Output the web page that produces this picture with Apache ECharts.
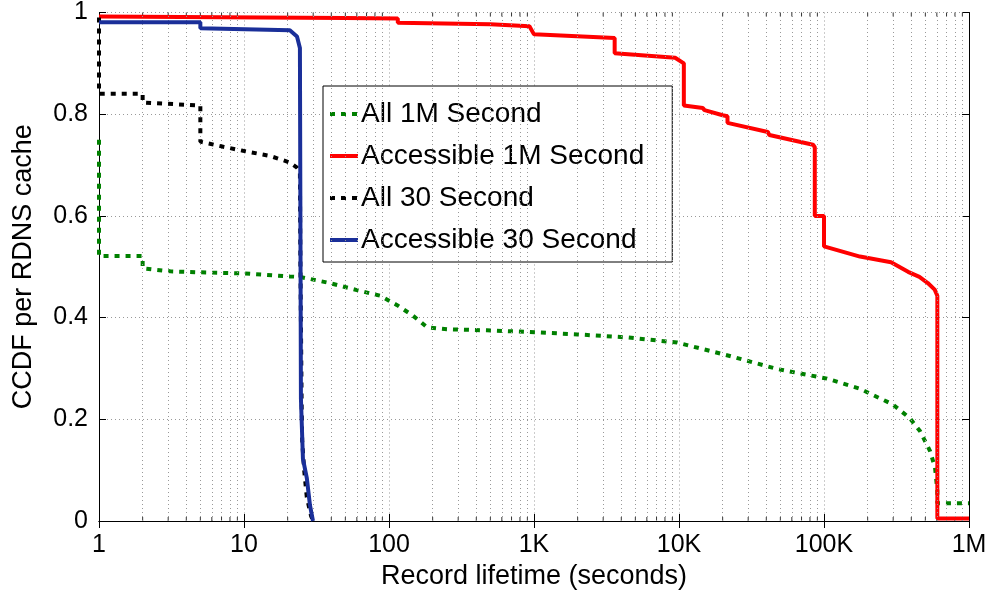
<!DOCTYPE html>
<html>
<head>
<meta charset="utf-8">
<script src="https://cdn.jsdelivr.net/npm/echarts@6/dist/echarts.min.js"></script>
<style>
  html, body { margin: 0; padding: 0; background: #fff; }
  #chart { width: 995px; height: 598px; }
</style>
</head>
<body>
<div id="chart"></div>
<script>
// tick labels
var xTickLabels = ['1', '10', '100', '1K', '10K', '100K', '1M'];
var yTickLabels = ['0', '0.2', '0.4', '0.6', '0.8', '1'];
var seriesNames = ['All 1M Second', 'Accessible 1M Second', 'All 30 Second', 'Accessible 30 Second'];

// [record lifetime (s), CCDF]
var all1M = [
  [1, 0.75], [1, 0.521], [2, 0.521], [2, 0.497], [3.1, 0.491], [5, 0.489], [9.85, 0.487],
  [20.7, 0.481], [24.3, 0.48], [39, 0.468], [60, 0.454], [87, 0.443], [113, 0.425],
  [146, 0.404], [183, 0.381], [251, 0.377], [474, 0.375], [1047, 0.371], [2000, 0.367],
  [4400, 0.361], [9700, 0.351], [21400, 0.326], [47400, 0.299], [105000, 0.28],
  [177000, 0.26], [299000, 0.229], [391000, 0.202], [459000, 0.177], [538000, 0.138],
  [583000, 0.105], [604800, 0.06], [604800, 0.035], [1000000, 0.035]
];
var acc1M = [
  [1, 0.992], [50, 0.989], [115, 0.988], [115, 0.98], [500, 0.977], [930, 0.973],
  [1000, 0.957], [3600, 0.95], [3600, 0.92], [9400, 0.911], [10800, 0.9], [10800, 0.817],
  [14600, 0.812], [15000, 0.808], [20000, 0.798], [21600, 0.796], [21600, 0.783],
  [41000, 0.765], [42000, 0.759], [84000, 0.74], [86400, 0.735], [86400, 0.6],
  [100000, 0.6], [100000, 0.54], [177000, 0.52], [290000, 0.509], [380000, 0.49],
  [455000, 0.48], [520000, 0.468], [580000, 0.455], [604800, 0.443], [604800, 0.005],
  [1000000, 0.005]
];
var all30 = [
  [1, 0.99], [1, 0.84], [2, 0.84], [2, 0.823], [5, 0.817], [5, 0.746], [7.2, 0.736],
  [9.85, 0.728], [15.1, 0.718], [20.7, 0.705], [23.2, 0.695], [24.3, 0.687], [24.5, 0.5],
  [25, 0.22], [25.2, 0.157], [26, 0.1], [27.1, 0.047], [29, 0.01], [30, 0]
];
var acc30 = [
  [1, 0.981], [5, 0.981], [5, 0.969], [20.7, 0.965], [23.2, 0.953], [24.3, 0.93],
  [24.7, 0.24], [25.5, 0.122], [27.1, 0.085], [28.5, 0.031], [29.9, 0]
];

var seriesColors = ['#008000', '#ff0000', '#000000', '#1a2f99'];

// minor log positions 2..9 per decade (grid + ticks)
var minorX = [];
for (var d = 1; d < 1000000; d *= 10) {
  for (var k = 2; k <= 9; k++) minorX.push(d * k);
}

var chart = echarts.init(document.getElementById('chart'));
var font = 'Liberation Sans, Helvetica, Arial, sans-serif';
var dotted = [5, 6];
var gridStyle = { color: '#999', type: [1, 3], width: 1 };

function lineSeries(i, data, dash) {
  return {
    name: seriesNames[i],
    type: 'line',
    data: data,
    showSymbol: false,
    symbol: 'none',
    z: 3 + i,
    color: seriesColors[i],
    lineStyle: { color: seriesColors[i], width: 4, type: dash ? dotted : 'solid', cap: 'butt' },
    animation: false
  };
}

var option = {
  animation: false,
  grid: { left: 99, right: 26, top: 6, bottom: 77 },
  legend: {
    left: 323,
    top: 86,
    orient: 'vertical',
    data: seriesNames,
    backgroundColor: '#fff',
    borderColor: '#000',
    borderWidth: 1,
    padding: [14, 28, 8, 5],
    itemGap: 14,
    itemWidth: 28,
    itemHeight: 14,
    itemStyle: { opacity: 0 },
    lineStyle: { width: 4 },
    textStyle: { fontSize: 28, color: '#000', fontFamily: font, padding: [0, 0, 0, -2] }
  },
  xAxis: [{
    type: 'log',
    logBase: 10,
    min: 1,
    max: 1000000,
    splitNumber: 6,
    name: 'Record lifetime (seconds)',
    nameLocation: 'middle',
    nameGap: 42,
    nameTextStyle: { fontSize: 27, color: '#000', fontFamily: font },
    axisLine: { lineStyle: { color: '#000', width: 1 } },
    axisTick: { inside: true, length: 7, lineStyle: { color: '#000' } },
    axisLabel: {
      fontSize: 25, color: '#000', fontFamily: font, margin: 12,
      formatter: function (v) { return xTickLabels[Math.round(Math.log10(v))]; }
    },
    splitLine: { show: true, lineStyle: gridStyle }
  }, {
    type: 'log',
    logBase: 10,
    min: 1,
    max: 1000000,
    splitNumber: 6,
    position: 'top',
    axisLine: { lineStyle: { color: '#000', width: 1 } },
    axisTick: { inside: true, length: 7, lineStyle: { color: '#000' } },
    axisLabel: { show: false },
    splitLine: { show: false }
  }],
  yAxis: [{
    type: 'value',
    min: 0,
    max: 1,
    interval: 0.2,
    name: 'CCDF per RDNS cache',
    nameLocation: 'middle',
    nameGap: 62,
    nameTextStyle: { fontSize: 27, color: '#000', fontFamily: font },
    axisLine: { show: true, lineStyle: { color: '#000', width: 1 } },
    axisTick: { show: true, inside: true, length: 7, lineStyle: { color: '#000' } },
    axisLabel: {
      fontSize: 25, color: '#000', fontFamily: font, margin: 11,
      formatter: function (v) { return yTickLabels[Math.round(v * 5)]; }
    },
    splitLine: { show: true, lineStyle: gridStyle }
  }, {
    type: 'value',
    min: 0,
    max: 1,
    interval: 0.2,
    position: 'right',
    axisLine: { show: true, lineStyle: { color: '#000', width: 1 } },
    axisTick: { show: true, inside: true, length: 7, lineStyle: { color: '#000' } },
    axisLabel: { show: false },
    splitLine: { show: false }
  }],
  series: [
    lineSeries(0, all1M, true),
    lineSeries(1, acc1M, false),
    lineSeries(2, all30, true),
    lineSeries(3, acc30, false),
    {
      type: 'line',
      data: [],
      silent: true,
      z: 1,
      markLine: {
        silent: true,
        symbol: 'none',
        label: { show: false },
        lineStyle: gridStyle,
        data: minorX.map(function (v) { return { xAxis: v }; }),
        animation: false
      }
    },
    {
      type: 'scatter',
      silent: true,
      clip: false,
      z: 2,
      symbol: 'rect',
      symbolSize: [1, 4],
      symbolOffset: [0, -2],
      itemStyle: { color: '#000' },
      data: minorX.map(function (v) { return [v, 0]; })
    },
    {
      type: 'scatter',
      silent: true,
      clip: false,
      z: 2,
      symbol: 'rect',
      symbolSize: [1, 4],
      symbolOffset: [0, 2],
      itemStyle: { color: '#000' },
      data: minorX.map(function (v) { return [v, 1]; })
    }
  ]
};

chart.setOption(option);
</script>
</body>
</html>
